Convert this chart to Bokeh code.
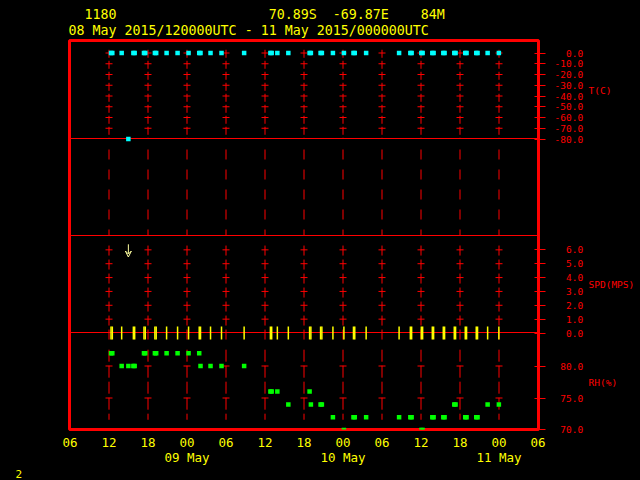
import math
import numpy as np
from bokeh.plotting import figure
from bokeh.models import (Range1d, LinearAxis, FixedTicker, Span, Title, Arrow,
                          VeeHead, CustomJSTickFormatter)
from bokeh.embed import file_html
from bokeh.resources import INLINE

# ---------------- data ----------------
station_id = "1180"
station_lat = "70.89S"
station_lon = "-69.87E"
station_elev = "84M"
period_text = "08 May 2015/120000UTC - 11 May 2015/000000UTC"
corner_text = "2"

# observation times, hours after 08 May 2015 00 UTC
obs_hour = [12.31, 12.51, 13.95, 14.98, 15.75, 15.95, 17.38, 17.58, 19.06, 19.26,
            20.86, 22.55, 24.24, 25.88, 26.08, 27.62, 29.31, 32.79, 36.83, 37.03,
            37.90, 39.59, 42.86, 43.06, 44.55, 44.75, 46.45, 48.14, 49.61, 49.81,
            51.56, 56.63, 58.36, 58.56, 60.05, 60.25, 61.74, 61.94, 63.43, 63.63,
            65.12, 65.32, 66.81, 67.01, 68.50, 68.70, 70.25, 71.98]
temp_c = [0.0, 0.0, 0.0, -80.0, 0.0, 0.0, 0.0, 0.0, 0.0, 0.0,
          0.0, 0.0, 0.0, 0.0, 0.0, 0.0, 0.0, 0.0, 0.0, 0.0,
          0.0, 0.0, 0.0, 0.0, 0.0, 0.0, 0.0, 0.0, 0.0, 0.0,
          0.0, 0.0, 0.0, 0.0, 0.0, 0.0, 0.0, 0.0, 0.0, 0.0,
          0.0, 0.0, 0.0, 0.0, 0.0, 0.0, 0.0, 0.0]
speed_mps = [0.0, 0.0, 0.0, np.nan, 0.0, 0.0, 0.0, 0.0, 0.0, 0.0,
             0.0, 0.0, 0.0, 0.0, 0.0, 0.0, 0.0, 0.0, 0.0, 0.0,
             0.0, 0.0, 0.0, 0.0, 0.0, 0.0, 0.0, 0.0, 0.0, 0.0,
             0.0, 0.0, 0.0, 0.0, 0.0, 0.0, 0.0, 0.0, 0.0, 0.0,
             0.0, 0.0, 0.0, 0.0, 0.0, 0.0, 0.0, 0.0]
rh_pct = [82, 82, 80, 80, 80, 80, 82, 82, 82, 82,
          82, 82, 82, 82, 80, 80, 80, 80, 76, 76,
          76, 74, 76, 74, 74, 74, 72, 70, 72, 72,
          72, 72, 72, 72, 70, 70, 72, 72, 72, 72,
          74, 74, 72, 72, 72, 72, 74, 74]

wind_arrow_hour = [14.98]
wind_arrow_dir = [360.0]

time_ticks = [6, 12, 18, 24, 30, 36, 42, 48, 54, 60, 66, 72, 78]
time_labels = ["06", "12", "18", "00", "06", "12", "18", "00", "06", "12", "18", "00", "06"]
day_ticks = [24, 48, 72]
day_labels = ["09 May", "10 May", "11 May"]
grid_hours = time_ticks[1:-1]

t_ticks = [0, -10, -20, -30, -40, -50, -60, -70, -80]
spd_ticks = [0, 1, 2, 3, 4, 5, 6]
rh_ticks = [70, 75, 80]
panel_names = ["T(C)", "SPD(MPS)", "RH(%)"]
panel_mid = {"T": -35.0, "SPD": 3.5, "RH": 77.5}

# ---------------- style / layout ----------------
RED = "#ff0000"
CYAN = "#00ffff"
GREEN = "#00ff00"
YELLOW = "#ffff00"
ARROW_C = "#ffffa0"
MONO = "DejaVu Sans Mono"
NB = "\u00a0"

FRAME_LEFT = 69
FRAME_W = 469
PX_PER_H = 6.5
X0 = 6 - 0.5 / PX_PER_H
X1 = X0 + FRAME_W / PX_PER_H

V0, V1 = -1.0, 388.0          # main vertical layout units (px above frame bottom)
# v = a + k * value for each panel
MAP = {"T": (375.5, 1.075), "SPD": (95.5, 97.0 / 7.0), "RH": (62.5 - 6.4 * 80, 6.4)}
HALF_PX = 0.5                 # nudge for crisp 1px horizontal separators


def to_v(panel, val):
    a, k = MAP[panel]
    return a + k * val


def panel_range(panel):
    a, k = MAP[panel]
    return Range1d(start=(V0 - a) / k, end=(V1 - a) / k)


p = figure(width=640, height=480, x_range=Range1d(X0, X1), y_range=Range1d(V0, V1),
           output_backend="svg", toolbar_location=None, title=None,
           x_axis_location="below", y_axis_location="right",
           min_border_left=FRAME_LEFT, min_border_right=640 - FRAME_LEFT - FRAME_W,
           min_border_top=40, min_border_bottom=51,
           background_fill_color="black", border_fill_color="black")
p.outline_line_color = RED
p.outline_line_width = 3
p.xgrid.visible = False
p.ygrid.visible = False
p.extra_y_ranges = {k: panel_range(k) for k in MAP}

# ---- grid lines (dashed verticals) ----
n = len(grid_hours)
p.segment(x0=grid_hours, y0=[3] * n, x1=grid_hours, y1=[-80] * n, y_range_name="T",
          line_color=RED, line_width=1, line_dash="8 3")
p.segment(x0=grid_hours, y0=[279] * n, x1=grid_hours, y1=[193] * n,
          line_color=RED, line_width=1, line_dash="10 10")
p.segment(x0=grid_hours, y0=[6.31] * n, x1=grid_hours, y1=[-0.48] * n, y_range_name="SPD",
          line_color=RED, line_width=1, line_dash="10 4")
p.segment(x0=grid_hours, y0=[82.55] * n, x1=grid_hours, y1=[71.6] * n, y_range_name="RH",
          line_color=RED, line_width=1, line_dash="12 4")


def crosses(ticks, rname):
    xs = [h for h in grid_hours for _ in ticks]
    ys = [t for _ in grid_hours for t in ticks]
    p.scatter(xs, ys, marker="dash", size=7, line_color=RED, line_width=1, y_range_name=rname)


crosses([t for t in t_ticks if t > -80], "T")
crosses([s for s in spd_ticks if s > 0], "SPD")
crosses([75, 80], "RH")

# panel separators (drawn in layout units, at the panel boundary values)
for rn, val in [("T", -80.0), ("SPD", 7.0), ("SPD", 0.0)]:
    p.add_layout(Span(location=to_v(rn, val) + HALF_PX, dimension="width",
                      line_color=RED, line_width=1, level="underlay"))

# ---- data ----
p.scatter(obs_hour, temp_c, marker="square", size=4.5, fill_color=CYAN, line_color=None,
          y_range_name="T")
p.rect(x=obs_hour, y=speed_mps, width=1.5, height=13, width_units="screen",
       height_units="screen", fill_color=YELLOW, line_color=None, y_range_name="SPD")
p.scatter(obs_hour, rh_pct, marker="square", size=4.5, fill_color=GREEN, line_color=None,
          y_range_name="RH")

ARROW_TOP = 6.4
ARROW_LEN_PX = 12.7
for h, d in zip(wind_arrow_hour, wind_arrow_dir):
    r = math.radians(d)
    x_end = h - math.sin(r) * ARROW_LEN_PX / PX_PER_H
    y_end = ARROW_TOP - math.cos(r) * ARROW_LEN_PX / MAP["SPD"][1]
    p.add_layout(Arrow(end=VeeHead(size=6, line_color=ARROW_C, line_width=1, fill_alpha=0),
                       x_start=h, y_start=ARROW_TOP, x_end=x_end, y_end=y_end,
                       y_range_name="SPD", line_color=ARROW_C, line_width=1))


def plain_axis(ax, color, size, standoff):
    ax.major_tick_in = 0
    ax.major_tick_out = 0
    ax.minor_tick_line_color = None
    ax.major_tick_line_color = None
    ax.axis_line_color = None
    ax.major_label_text_color = color
    ax.major_label_text_font = MONO
    ax.major_label_text_font_size = size
    ax.major_label_standoff = standoff


# ---- bottom axes ----
xa = p.xaxis[0]
xa.ticker = FixedTicker(ticks=time_ticks, minor_ticks=[])
xa.major_label_overrides = {t: l for t, l in zip(time_ticks, time_labels)}
plain_axis(xa, YELLOW, "12.5px", 8)

da = LinearAxis(ticker=FixedTicker(ticks=day_ticks, minor_ticks=[]),
                major_label_overrides={t: l for t, l in zip(day_ticks, day_labels)})
plain_axis(da, YELLOW, "12.5px", 0)
p.add_layout(da, "below")

# corner page number, below the day labels
p.add_layout(Title(text=corner_text, align="left", offset=15 - FRAME_LEFT, standoff=0,
                   text_font=MONO, text_font_size="11px", text_color=YELLOW,
                   text_font_style="normal"), "below")

# ---- header axes (above) ----
HDR_SIZE = 13.3
CW = 0.602 * HDR_SIZE
X_TXT0 = 68.0  # px of first text column


def text_center_hour(col, txt):
    px = X_TXT0 + col * CW + len(txt) * CW / 2.0
    return X0 + (px - FRAME_LEFT) / PX_PER_H


fmt_code = """
let best = 0, d = 1e9;
for (let i = 0; i < pos.length; i++) { const e = Math.abs(pos[i] - tick); if (e < d) { d = e; best = i; } }
return lab[best];
"""

line2 = [(period_text, 0)]
line1 = [(station_id, 2), (station_lat, 25), (station_lon, 33), (station_elev, 44)]
for items, stand in [(line2, 3), (line1, -2)]:
    hpos = [text_center_hour(c, t) for t, c in items]
    htxt = [t for t, c in items]
    ha = LinearAxis(ticker=FixedTicker(ticks=hpos, minor_ticks=[]),
                    formatter=CustomJSTickFormatter(args=dict(pos=hpos, lab=htxt), code=fmt_code))
    plain_axis(ha, YELLOW, "%.1fpx" % HDR_SIZE, stand)
    p.add_layout(ha, "above")

# ---- right axes ----
pos, labs = [], []
for t in t_ticks:
    pos.append(to_v("T", t)); labs.append("%.1f" % t)
for s in spd_ticks:
    pos.append(to_v("SPD", s)); labs.append("%.1f" % s)
for r in rh_ticks:
    pos.append(max(V0, to_v("RH", r))); labs.append("%.1f" % r)
labs = [NB * (5 - len(l)) + l for l in labs]

ya = p.yaxis[0]
ya.ticker = FixedTicker(ticks=pos, minor_ticks=[])
ya.formatter = CustomJSTickFormatter(args=dict(pos=pos, lab=labs), code=fmt_code)
ya.axis_line_color = None
ya.major_tick_line_color = RED
ya.major_tick_line_width = 1
ya.major_tick_in = 4
ya.major_tick_out = 7
ya.minor_tick_line_color = None
ya.major_label_text_color = RED
ya.major_label_text_font = MONO
ya.major_label_text_font_size = "9.5px"
ya.major_label_standoff = 9

npos = [to_v(k, panel_mid[k]) for k in ["T", "SPD", "RH"]]
na = LinearAxis(ticker=FixedTicker(ticks=npos, minor_ticks=[]),
                formatter=CustomJSTickFormatter(args=dict(pos=npos, lab=panel_names), code=fmt_code))
plain_axis(na, RED, "9.5px", 2)
p.add_layout(na, "right")

html = file_html(p, INLINE)
html = html.replace("</head>",
                    "<style>html, body { margin: 0; padding: 0; background: #000000; }</style></head>", 1)
open("out.html", "w").write(html)
